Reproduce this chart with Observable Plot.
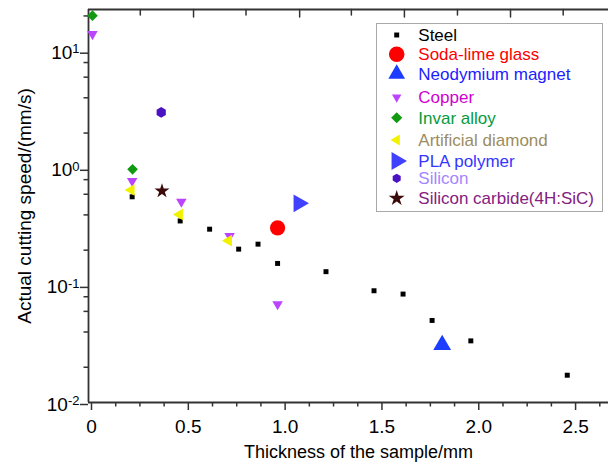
<!DOCTYPE html>
<html><head><meta charset="utf-8">
<script src="https://cdn.jsdelivr.net/npm/d3@7"></script>
<script src="https://cdn.jsdelivr.net/npm/@observablehq/plot@0.6"></script>
<style>
body{margin:0;background:#fff;}
#wrap{position:relative;width:608px;height:468px;overflow:hidden;}
</style></head><body><div id="wrap"></div>
<script>
// ---- data ----
const seriesNames = ["Steel","Soda-lime glass","Neodymium magnet","Copper","Invar alloy","Artificial diamond","PLA polymer","Silicon","Silicon carbide(4H:SiC)"];
const steelX = [0.21, 0.458, 0.61, 0.76, 0.86, 0.961, 1.211, 1.459, 1.609, 1.759, 1.959, 2.457];
const steelY = [0.571, 0.355, 0.302, 0.204, 0.225, 0.154, 0.131, 0.090, 0.0843, 0.0502, 0.0336, 0.0171];
const sodaX = [0.961];
const sodaY = [0.31];
const neoX = [1.811];
const neoY = [0.031];
const copperX = [0.005, 0.21, 0.464, 0.713, 0.961];
const copperY = [14.0, 0.779, 0.518, 0.264, 0.069];
const invarX = [0.005, 0.212];
const invarY = [20.1, 0.98];
const diamondX = [0.205, 0.455, 0.708];
const diamondY = [0.653, 0.404, 0.241];
const plaX = [1.07];
const plaY = [0.502];
const siliconX = [0.36];
const siliconY = [3.0];
const sicX = [0.364];
const sicY = [0.64];

const xMajorTicks = [0, 0.5, 1.0, 1.5, 2.0, 2.5];
const xMinorTicks = [0.125,0.25,0.375,0.625,0.75,0.875,1.125,1.25,1.375,1.625,1.75,1.875,2.125,2.25,2.375,2.625];
const yMajorTicks = [0.01, 0.1, 1, 10];
const yMinorTicks = [0.02,0.04,0.06,0.08,0.2,0.4,0.6,0.8,2,4,6,8,20];
const topMajorTicks = [0.527, 1.075, 1.616, 2.164];
const topMinorTicks = [0.252, 0.798, 1.342, 1.89, 2.436];
const xDomain = [-0.0155, 2.67];
const yDomain = [0.01, 22.7];
const xTitle = "Thickness of the sample/mm";
const yTitle = "Actual cutting speed/(mm/s)";

// ---- styles ----
const symHex = {
  draw(ctx, size) {
    const rx = Math.sqrt(size / Math.PI), ry = rx * 2 / Math.sqrt(3), hy = ry / 2;
    ctx.moveTo(0, ry); ctx.lineTo(rx, hy); ctx.lineTo(rx, -hy); ctx.lineTo(0, -ry);
    ctx.lineTo(-rx, -hy); ctx.lineTo(-rx, hy); ctx.closePath();
  }
};
const styles = [
  {xs: steelX, ys: steelY, symbol: "square", d3s: d3.symbolSquare, rotate: 0, r: 2.8, lr: 2.8, fill: "#000000", text: "#000000"},
  {xs: sodaX, ys: sodaY, symbol: "circle", d3s: d3.symbolCircle, rotate: 0, r: 7.6, lr: 7.8, fill: "#ff0000", text: "#ff0000"},
  {xs: neoX, ys: neoY, symbol: "triangle", d3s: d3.symbolTriangle, rotate: 0, r: 6.6, lr: 6.2, fill: "#1c3cff", text: "#1a22ff"},
  {xs: copperX, ys: copperY, symbol: "triangle", d3s: d3.symbolTriangle, rotate: 180, r: 3.9, lr: 3.5, fill: "#bb44ff", text: "#d000d0"},
  {xs: invarX, ys: invarY, symbol: "diamond2", d3s: d3.symbolDiamond2, rotate: 0, r: 4.8, lr: 5.0, fill: "#119911", text: "#079a3c"},
  {xs: diamondX, ys: diamondY, symbol: "triangle", d3s: d3.symbolTriangle, rotate: -90, r: 4.3, lr: 4.0, fill: "#f2f200", text: "#9b8d5f"},
  {xs: plaX, ys: plaY, symbol: "triangle", d3s: d3.symbolTriangle, rotate: 90, r: 6.6, lr: 6.6, fill: "#4040ff", text: "#3535ff"},
  {xs: siliconX, ys: siliconY, symbol: "hexagon", d3s: symHex, rotate: 0, r: 4.6, lr: 4.0, fill: "#4a12c0", text: "#a585ff"},
  {xs: sicX, ys: sicY, symbol: "star", d3s: d3.symbolStar, rotate: 0, r: 4.7, lr: 5.0, fill: "#3c0a0a", text: "#84207f"}
];

const dotMarks = styles.map((s, i) =>
  Plot.dot(s.xs.map((x, j) => ({x, y: s.ys[j], name: seriesNames[i]})), {
    x: "x", y: "y", symbol: s.symbol, r: s.r, fill: s.fill, stroke: "none", rotate: s.rotate
  })
);

const axisColor = "#333";
const tickShape = {draw(ctx, l) { ctx.moveTo(0, 0); ctx.lineTo(0, -l); }};
const chart = Plot.plot({
  width: 608, height: 468,
  marginLeft: 88, marginRight: 0, marginTop: 9, marginBottom: 66,
  style: {fontFamily: "'Liberation Sans', Arial, sans-serif", fontSize: "19px", color: "#000", background: "#fff", overflow: "visible"},
  x: {domain: xDomain},
  y: {type: "log", domain: yDomain},
  marks: [
    Plot.axisX({ticks: xMinorTicks, tickSize: 4.5, tickFormat: () => "", stroke: axisColor, strokeWidth: 1.5, label: null}),
    Plot.axisX({ticks: xMajorTicks, tickSize: 8, tickPadding: 9, stroke: axisColor, strokeWidth: 1.5,
      tickFormat: d => d === 0 ? "0" : d.toFixed(1), label: null, fill: "#000"}),
    Plot.vector(topMajorTicks, {x: d => d, frameAnchor: "top", length: 7.5, rotate: 180, anchor: "start", shape: tickShape, stroke: axisColor, strokeWidth: 1.5}),
    Plot.vector(topMinorTicks, {x: d => d, frameAnchor: "top", length: 5.5, rotate: 180, anchor: "start", shape: tickShape, stroke: axisColor, strokeWidth: 1.5}),
    Plot.axisY({ticks: yMinorTicks, tickSize: 4.5, tickFormat: () => "", stroke: axisColor, strokeWidth: 1.5, label: null}),
    Plot.axisY({ticks: yMajorTicks, tickSize: 8, tickPadding: 1, stroke: axisColor, strokeWidth: 1.5,
      tickFormat: d => "10^" + Math.round(Math.log10(d)), label: null, fill: "#000", dy: 2}),
    Plot.ruleX([xDomain[0]], {stroke: axisColor, strokeWidth: 1.8}),
    Plot.ruleY([yDomain[0]], {stroke: axisColor, strokeWidth: 1.8}),
    Plot.ruleY([yDomain[1]], {stroke: axisColor, strokeWidth: 1.8}),
    Plot.text([xTitle], {frameAnchor: "bottom", dy: 55, dx: 10, textAnchor: "middle", text: d => d, fontSize: 18, fill: "#000"}),
    Plot.text([yTitle], {frameAnchor: "left", dx: -64, textAnchor: "middle", rotate: -90, text: d => d, fontSize: 19, fill: "#000"}),
    ...dotMarks
  ]
});

// superscript exponents on y tick labels
d3.select(chart).selectAll('g[aria-label="y-axis tick label"] text').each(function () {
  const t = this.textContent;
  if (!t.includes("^")) return;
  const [b, e] = t.split("^");
  const s = d3.select(this);
  s.text(null);
  s.append("tspan").text(b);
  s.append("tspan").attr("font-size", 13).attr("dy", "-0.45em").text(e);
});

// legend inside the svg
const lg = d3.select(chart).append("g").attr("class", "legend").attr("text-anchor", "start");
lg.append("rect").attr("x", 376.5).attr("y", 23.5).attr("width", 226).attr("height", 188)
  .attr("fill", "#fff").attr("stroke", "#a8a8a8").attr("stroke-width", 1);
const rowY = [35, 54.3, 74, 97.3, 117.7, 140, 161, 178.3, 198.3];
styles.forEach((s, i) => {
  const sz = Math.PI * s.lr * s.lr;
  lg.append("path").attr("d", d3.symbol(s.d3s, sz)())
    .attr("transform", `translate(396.7,${rowY[i]}) rotate(${s.rotate})`)
    .attr("fill", s.fill);
  lg.append("text").attr("x", 418.3).attr("y", rowY[i]).attr("dy", "0.36em")
    .attr("text-anchor", "start")
    .attr("font-family", "'Liberation Sans', Arial, sans-serif").attr("font-size", 17)
    .attr("fill", s.text).text(seriesNames[i]);
});

document.getElementById("wrap").appendChild(chart);
</script>
</body></html>
